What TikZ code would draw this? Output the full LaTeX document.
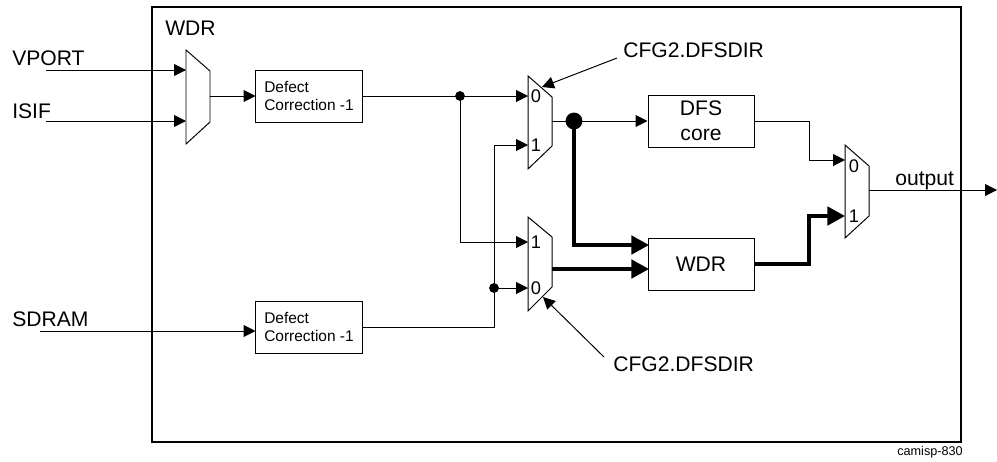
\documentclass[tikz,border=0pt]{standalone}
\usepackage{fontspec}
\setmainfont{Liberation Sans}
\usetikzlibrary{arrows.meta,positioning,calc}

\begin{document}
\begin{tikzpicture}[x=0.025cm, y=-0.025cm,
    block/.style={draw, line width=0.7pt, minimum width=2.65cm, minimum height=1.3cm, inner sep=0pt, font=\fontsize{15}{17}\selectfont},
    dcbox/.style={block, align=left, font=\fontsize{11}{13}\selectfont},
    lbl/.style={font=\fontsize{15}{17}\selectfont, inner sep=0pt, anchor=base west},
    sel/.style={font=\fontsize{13}{15}\selectfont, inner sep=0pt},
    small/.style={font=\fontsize{9}{11}\selectfont, inner sep=0pt, anchor=base west},
    muxbox/.style={draw, line width=0.7pt, line join=miter},
    arr/.style={-{Triangle[length=8.5pt, width=8.5pt]}, line width=0.7pt},
    thk/.style={-{Triangle[length=12.5pt, width=13pt]}, line width=2.8pt, line join=miter},
    sdot/.style={circle, fill, inner sep=0pt, minimum size=7pt},
    bdot/.style={circle, fill, inner sep=0pt, minimum size=12pt}
]
\useasboundingbox (0,0) rectangle (997,461);

% frame
\draw[line width=0.9pt] (152,7) rectangle (961,442);
\node[lbl] (title) at (165,35) {WDR};

% inputs
\node[lbl] (vport) at (12,65) {VPORT};
\node[lbl] (isif) at (12,118) {ISIF};
\node[lbl] (sdram) at (12,326) {SDRAM};
\coordinate (vp) at (46,70);
\coordinate (is) at (46,121);
\coordinate (sd) at (40,331);

% muxes
\draw[muxbox] (186,50) -- (210,71) -- (210,122) -- (186,144) -- cycle;
\coordinate (m1a) at (186,70);
\coordinate (m1b) at (186,121);
\coordinate (m1o) at (210,96);

\draw[muxbox] (528,76) -- (552,97) -- (552,146) -- (528,169) -- cycle;
\coordinate (m2a) at (528,96);
\coordinate (m2b) at (528,145);
\coordinate (m2o) at (552,121);
\node[sel] (m2l0) at (536,96) {0};
\node[sel] (m2l1) at (536,145) {1};

\draw[muxbox] (528,217) -- (552,237) -- (552,287) -- (528,311) -- cycle;
\coordinate (m4a) at (528,242);
\coordinate (m4b) at (528,288);
\coordinate (m4o) at (552,269);
\node[sel] (m4l1) at (536,242) {1};
\node[sel] (m4l0) at (536,288) {0};

\draw[muxbox] (845,145) -- (869,166) -- (869,216) -- (845,238) -- cycle;
\coordinate (m3a) at (845,160);
\coordinate (m3b) at (845,216);
\coordinate (m3o) at (869,190);
\node[sel] (m3l0) at (854,166) {0};
\node[sel] (m3l1) at (854,216) {1};

% blocks
\node[dcbox] (dc1) at (309,96) {Defect\\Correction -1};
\node[dcbox] (dc2) at (309,327) {Defect\\Correction -1};
\node[block, align=center, font=\fontsize{15}{18}\selectfont] (dfs) at (701,121) {DFS\\core};
\node[block] (wdr) at (701,264) {WDR};

% junctions
\node[sdot] (j1) at (460,96) {};
\node[sdot] (j2) at (494,288) {};
\node[bdot] (j3) at (574,121) {};
\coordinate (k2) at (494,145);
\coordinate (k3) at (809,160);
\coordinate (k4) at (809,216);
\coordinate (w1) at (649,245);
\coordinate (w2) at (649,269);
\coordinate (out) at (997,190);

% thin connectors
\draw[arr] (vp) -- (m1a);
\draw[arr] (is) -- (m1b);
\draw[arr] (sd) -- (sd -| dc2.west);
\draw[arr] (m1o) -- (dc1.west);
\draw[arr] (dc1.east) -- (m2a);
\draw[arr] (j1.center) |- (m4a);
\draw[arr] (dc2.east) -| (k2) -- (m2b);
\draw[arr] (j2.center) -- (m4b);
\draw[arr] (m2o) -- (dfs.west);
\draw[arr] (dfs.east) -| (k3) -- (m3a);
\draw[arr] (m3o) -- (out);
\node[lbl] (outlbl) at (895,185) {output};

% thick connectors
\draw[thk] (j3.center) |- (w1);
\draw[thk] (m4o) -- (w2);
\draw[thk] (wdr.east) -| (k4) -- (m3b);

% select labels
\node[lbl] (cfga) at (623,57) {CFG2.DFSDIR};
\node[lbl] (cfgb) at (613,371) {CFG2.DFSDIR};
\coordinate (ca) at (617,58);
\coordinate (cb) at (604,357);
\draw[arr] (ca) -- (542,87);
\draw[arr] (cb) -- (543,297);

\node[small] (tag) at (897,455) {camisp-830};
\end{tikzpicture}
\end{document}
